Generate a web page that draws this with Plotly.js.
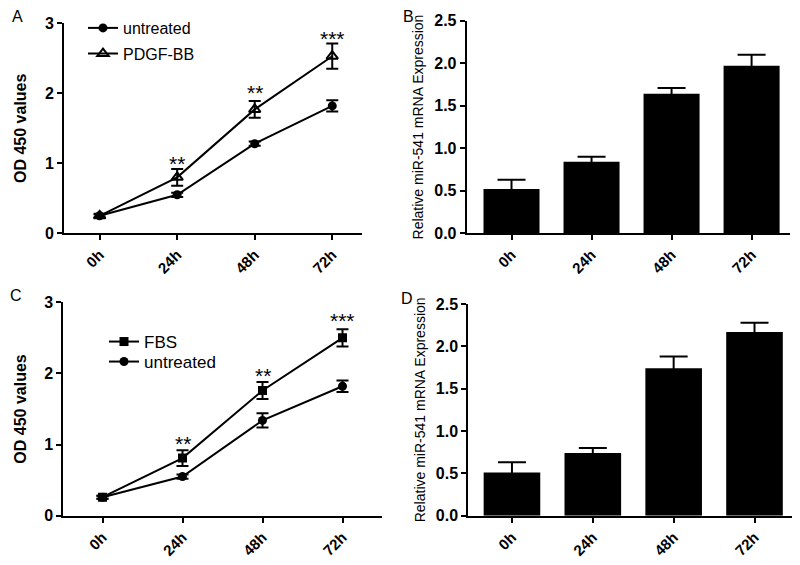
<!DOCTYPE html>
<html>
<head>
<meta charset="utf-8">
<script src="https://cdn.plot.ly/plotly-3.0.1.min.js"></script>
<style>html,body{margin:0;padding:0;background:#fff;}#chart{width:800px;height:565px;}</style>
</head>
<body>
<div id="chart"></div>
<script>
// ---- data ----
const categories = ['0h', '24h', '48h', '72h'];

// Panel A (OD 450)
const aUntreated = [0.25, 0.55, 1.28, 1.82];
const aUntreatedErr = [0.02, 0.03, 0.03, 0.08];
const aPdgf = [0.25, 0.80, 1.77, 2.53];
const aPdgfErr = [0.03, 0.12, 0.12, 0.18];
const aStars = ['', '**', '**', '***'];
const aStarY = [0, 1.04, 2.06, 2.83];

// Panel B (relative miR-541)
const bValues = [0.52, 0.84, 1.64, 1.97];
const bErr = [0.11, 0.06, 0.07, 0.13];

// Panel C (OD 450)
const cFbs = [0.26, 0.81, 1.76, 2.50];
const cFbsErr = [0.02, 0.11, 0.12, 0.12];
const cUntreated = [0.26, 0.55, 1.34, 1.82];
const cUntreatedErr = [0.02, 0.03, 0.10, 0.08];
const cStars = ['', '**', '**', '***'];
const cStarY = [0, 1.06, 2.02, 2.79];

// Panel D (relative miR-541)
const dValues = [0.51, 0.74, 1.74, 2.17];
const dErr = [0.12, 0.06, 0.14, 0.11];

// ---- styling ----
const FONT = 'Arial, "Liberation Sans", sans-serif';
const W = 800, H = 565;
const px = v => v / W;
const py = v => 1 - v / H;

function errY(arr, w) {
  return {type: 'data', array: arr, visible: true, color: '#000', thickness: 2, width: w};
}

const traces = [
  {x: categories, y: aUntreated, name: 'untreated', type: 'scatter', mode: 'lines+markers',
   xaxis: 'x', yaxis: 'y', legend: 'legend',
   line: {color: '#000', width: 2}, marker: {symbol: 'circle', size: 9, color: '#000'},
   error_y: errY(aUntreatedErr, 6)},
  {x: categories, y: aPdgf, name: 'PDGF-BB', type: 'scatter', mode: 'lines+markers',
   xaxis: 'x', yaxis: 'y', legend: 'legend2',
   line: {color: '#000', width: 2},
   marker: {symbol: 'triangle-up-open', size: 10, color: '#000', line: {color: '#000', width: 2}},
   error_y: errY(aPdgfErr, 6)},
  {x: categories, y: bValues, type: 'bar', xaxis: 'x2', yaxis: 'y2', showlegend: false,
   width: 0.7, marker: {color: '#000', line: {width: 0}},
   error_y: errY(bErr, 14)},
  {x: categories, y: cFbs, name: 'FBS', type: 'scatter', mode: 'lines+markers',
   xaxis: 'x3', yaxis: 'y3', legend: 'legend3',
   line: {color: '#000', width: 2}, marker: {symbol: 'square', size: 9, color: '#000'},
   error_y: errY(cFbsErr, 6)},
  {x: categories, y: cUntreated, name: 'untreated', type: 'scatter', mode: 'lines+markers',
   xaxis: 'x3', yaxis: 'y3', legend: 'legend4',
   line: {color: '#000', width: 2}, marker: {symbol: 'circle', size: 9, color: '#000'},
   error_y: errY(cUntreatedErr, 6)},
  {x: categories, y: dValues, type: 'bar', xaxis: 'x4', yaxis: 'y4', showlegend: false,
   width: 0.7, marker: {color: '#000', line: {width: 0}},
   error_y: errY(dErr, 14)}
];

function xAx(domain, range, anchor) {
  return {domain: domain, range: range, anchor: anchor, type: 'category',
    showline: true, linewidth: 2, linecolor: '#000', showgrid: false, zeroline: false,
    ticks: 'outside', ticklen: 5, tickwidth: 2, tickcolor: '#000',
    tickangle: -45, tickfont: {family: FONT, size: 15, color: '#000', weight: 'bold'}};
}
function yAx(domain, range, dtick, fmt, anchor, title) {
  return {domain: domain, range: range, anchor: anchor, dtick: dtick, tick0: 0, tickformat: fmt,
    showline: true, linewidth: 2, linecolor: '#000', showgrid: false, zeroline: false,
    ticks: 'outside', ticklen: 5, tickwidth: 2, tickcolor: '#000',
    tickfont: {family: FONT, size: 16, color: '#000', weight: 'bold'},
    title: title};
}

const odTitle = {text: 'OD 450 values', font: {family: FONT, size: 16, color: '#000', weight: 'bold'}, standoff: 14};
const mirTitle = {text: 'Relative miR-541 mRNA Expression', font: {family: FONT, size: 14, color: '#000'}, standoff: 7};

const annotations = [];
[['A', 17, 16], ['B', 408, 17], ['C', 16, 295], ['D', 407, 298]].forEach(([t, x, y]) => {
  annotations.push({text: t, xref: 'paper', yref: 'paper', x: px(x), y: py(y),
    xanchor: 'center', yanchor: 'middle', showarrow: false,
    font: {family: FONT, size: 16, color: '#000'}});
});
categories.forEach((c, i) => {
  if (aStars[i]) annotations.push({text: aStars[i], x: c, y: aStarY[i], xref: 'x', yref: 'y',
    showarrow: false, yanchor: 'middle', yshift: -3, font: {family: FONT, size: 21, color: '#000'}});
  if (cStars[i]) annotations.push({text: cStars[i], x: c, y: cStarY[i], xref: 'x3', yref: 'y3',
    showarrow: false, yanchor: 'middle', yshift: -3, font: {family: FONT, size: 21, color: '#000'}});
});

function leg(x, y, size) {
  return {x: px(x), y: py(y), xanchor: 'left', yanchor: 'top', bgcolor: 'rgba(0,0,0,0)',
    font: {family: FONT, size: size, color: '#000'}};
}

const layout = {
  width: W, height: H,
  margin: {l: 0, r: 0, t: 0, b: 0},
  paper_bgcolor: '#fff', plot_bgcolor: '#fff',
  font: {family: FONT, color: '#000'},
  xaxis: xAx([px(64), px(361.7)], [-0.46, 3.38], 'y'),
  yaxis: yAx([py(233.3), py(23.3)], [0, 3], 1, 'd', 'x', odTitle),
  xaxis2: xAx([px(466.7), px(790)], [-0.56, 3.48], 'y2'),
  yaxis2: yAx([py(233.3), py(20.7)], [0, 2.5], 0.5, '.1f', 'x2', mirTitle),
  xaxis3: xAx([px(63.3), px(381.7)], [-0.49, 3.49], 'y3'),
  yaxis3: yAx([py(515.7), py(302.3)], [0, 3], 1, 'd', 'x3', odTitle),
  xaxis4: xAx([px(468.3), px(791.7)], [-0.54, 3.46], 'y4'),
  yaxis4: yAx([py(515.7), py(304)], [0, 2.5], 0.5, '.1f', 'x4', mirTitle),
  legend: leg(83, 11, 16),
  legend2: leg(83, 36.7, 16),
  legend3: leg(104, 324, 17),
  legend4: leg(104, 344, 17),
  annotations: annotations,
  showlegend: true,
  bargap: 0.3
};

Plotly.newPlot('chart', traces, layout, {displayModeBar: false, staticPlot: true});
</script>
</body>
</html>
